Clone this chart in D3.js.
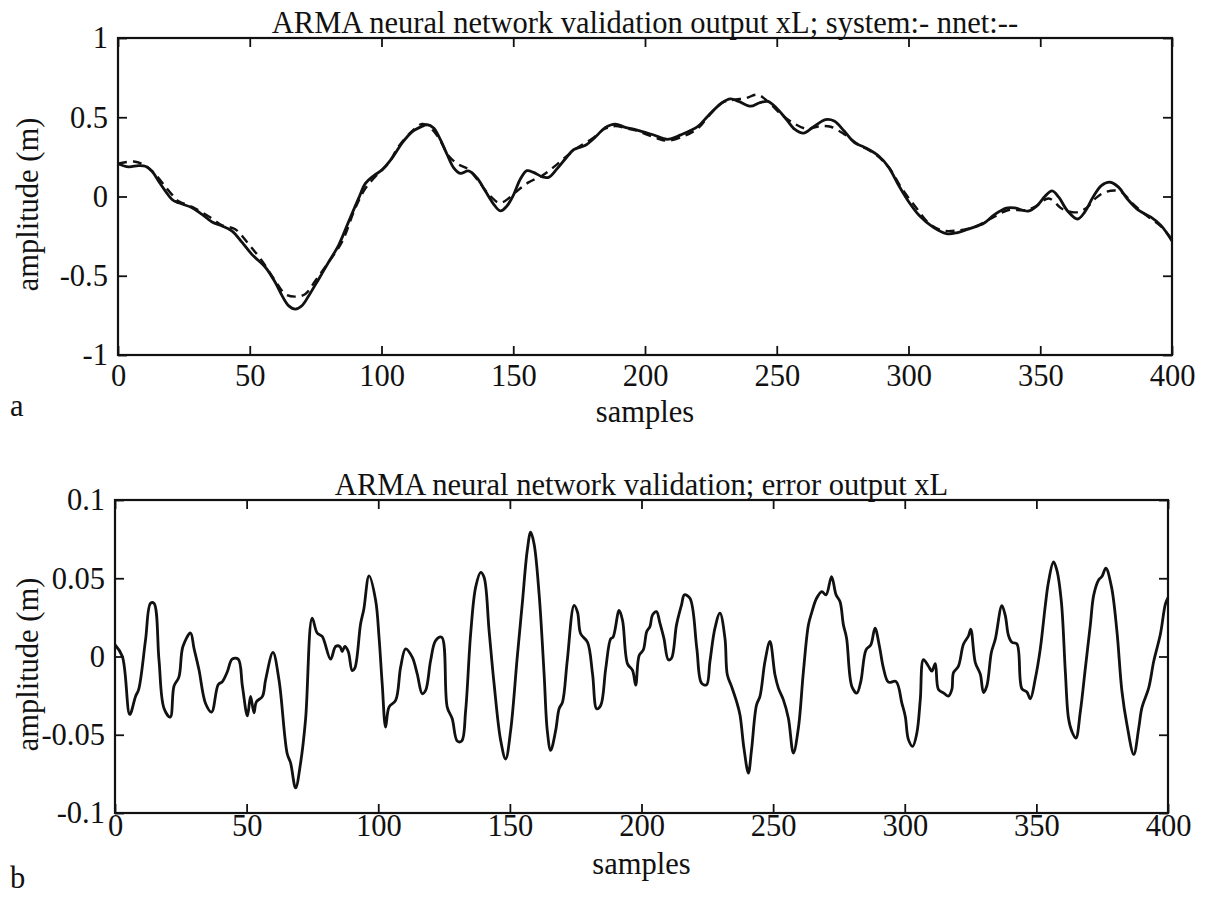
<!DOCTYPE html>
<html>
<head>
<meta charset="utf-8">
<script src="https://cdn.jsdelivr.net/npm/d3@7"></script>
<style>
  body { margin: 0; background: #fff; }
  svg text { font-family: "Liberation Serif", "DejaVu Serif", serif; fill: #111; }
</style>
</head>
<body>
<div id="chart"></div>
<script>
// panel a: system output (solid) and nnet output (dashed), [sample, amplitude]
var systemOut = [
  [0, 0.207], [4, 0.187], [7.8, 0.195], [10.4, 0.191], [12.9, 0.159], [15.4, 0.097],
  [18, 0.034], [20.5, -0.019], [23, -0.04], [28.1, -0.071], [31.9, -0.113], [35.7, -0.161],
  [39.5, -0.186], [43.3, -0.218], [47.1, -0.29], [50.8, -0.365], [56, -0.448], [59.7, -0.543],
  [62.3, -0.627], [64.8, -0.69], [67.3, -0.71], [69.8, -0.689], [72.4, -0.626], [76.2, -0.52],
  [80, -0.412], [83.7, -0.308], [87.5, -0.16], [91.3, -0.012], [93.9, 0.083], [97, 0.131],
  [100.2, 0.168], [104, 0.242], [107.8, 0.337], [111.6, 0.408], [115.4, 0.443], [117.3, 0.454],
  [119.8, 0.432], [122.3, 0.36], [124.9, 0.265], [127.4, 0.181], [129.9, 0.146], [133, 0.161],
  [136.2, 0.118], [139.4, 0.034], [142.6, -0.049], [145.1, -0.091], [147.6, -0.06], [150.2, 0.014],
  [152.7, 0.11], [155.2, 0.163], [157.7, 0.152], [160.9, 0.125], [163.4, 0.121], [166.6, 0.174],
  [169.8, 0.238], [172.9, 0.295], [177.4, 0.323], [181.2, 0.376], [185, 0.436], [188.7, 0.457],
  [192.5, 0.436], [196, 0.424], [203.3, 0.388], [208.4, 0.361], [213.6, 0.389], [220.1, 0.442],
  [224, 0.51], [229.1, 0.59], [232.4, 0.616], [235.6, 0.6], [240.1, 0.57], [243.3, 0.59],
  [246.6, 0.6], [249.8, 0.56], [253.7, 0.486], [256.9, 0.423], [260.1, 0.4], [264, 0.44],
  [268.5, 0.485], [271.8, 0.476], [275.6, 0.413], [279.5, 0.34], [283.4, 0.31], [288.6, 0.257],
  [292.5, 0.184], [296.3, 0.069], [300.2, -0.036], [304.1, -0.12], [309.3, -0.193], [314.4, -0.234],
  [318.3, -0.229], [323.5, -0.201], [328.6, -0.169], [332.5, -0.116], [337.1, -0.073], [340.3, -0.072],
  [345.4, -0.092], [348.7, -0.06], [351.9, 0.003], [354.5, 0.035], [357.1, -0.006], [360.3, -0.09],
  [364.2, -0.142], [366.8, -0.1], [370, -0.005], [373.2, 0.069], [376.5, 0.09], [379.7, 0.059],
  [383, -0.014], [387.4, -0.088], [392, -0.13], [395.8, -0.182], [400, -0.28]
];

var nnetOut = [
  [0, 0.207], [6, 0.221], [10.4, 0.195], [14.2, 0.139], [19.9, 0.023], [23, -0.03],
  [28.1, -0.065], [35.7, -0.139], [39.5, -0.182], [44.5, -0.207], [49.6, -0.301], [54.6, -0.405],
  [59.7, -0.532], [63.5, -0.616], [67.3, -0.632], [71.1, -0.615], [74.9, -0.531], [80, -0.412],
  [85, -0.287], [90, -0.075], [93.9, 0.051], [98.9, 0.147], [102.7, 0.21], [106.5, 0.316],
  [111.6, 0.412], [115.4, 0.458], [117.9, 0.443], [121.7, 0.371], [125.5, 0.255], [129.3, 0.202],
  [133, 0.171], [136.8, 0.097], [140.7, 0.014], [144.5, -0.039], [147, -0.027], [150.8, 0.026],
  [155.8, 0.089], [160.9, 0.131], [165.3, 0.185], [169.8, 0.248], [174.8, 0.312], [179.9, 0.365],
  [185, 0.429], [188.7, 0.444], [193.1, 0.429], [196, 0.419], [204.6, 0.367], [208.4, 0.352],
  [214.9, 0.382], [220.1, 0.43], [224, 0.505], [229.1, 0.59], [233.6, 0.61], [238.2, 0.62],
  [242.7, 0.642], [246.6, 0.6], [251.1, 0.527], [256.3, 0.464], [261.4, 0.427], [266.6, 0.444],
  [270.5, 0.44], [275.6, 0.393], [280.8, 0.33], [287.3, 0.268], [292.5, 0.184], [297.6, 0.047],
  [302.8, -0.068], [308, -0.173], [313.1, -0.215], [318.3, -0.215], [324.8, -0.193], [331.2, -0.14],
  [337.7, -0.087], [344.2, -0.086], [348, -0.065], [353.2, -0.013], [358.4, -0.079], [363.5, -0.1],
  [367.4, -0.074], [371.3, -0.007], [375.2, 0.031], [380.3, 0.032], [385.5, -0.052], [390.7, -0.125],
  [395.8, -0.188], [400, -0.27]
];

// panel b: error output, [sample, amplitude]
var errorOut = [
  [0, 0.0075], [2.8, 0], [5.6, -0.037], [7.8, -0.0255], [9, -0.021], [11.6, 0.0106],
  [13.5, 0.034], [14.8, 0.034], [16.7, -0.002], [18.6, -0.033], [21, -0.0387], [22.4, -0.019],
  [24.3, -0.013], [25.8, 0.0064], [28.7, 0.015], [30, 0.0053], [31.9, -0.0085], [34.4, -0.03],
  [36.7, -0.0355], [39.2, -0.018], [40.8, -0.016], [42.7, -0.0096], [44.5, -0.0017], [46.8, -0.0017],
  [48.4, -0.019], [50.3, -0.038], [51.5, -0.0255], [52.8, -0.036], [53.7, -0.029], [56, -0.0255],
  [57.2, -0.015], [60, 0.0026], [62.3, -0.015], [65.4, -0.062], [66.7, -0.068], [68.6, -0.084],
  [70.5, -0.068], [72.4, -0.04], [74.9, 0.0245], [76.8, 0.015], [78.7, 0.0128], [81.9, -0.0017],
  [83.8, 0.0064], [85.4, 0.0064], [86.3, 0.0032], [87.3, 0.0064], [88.6, 0.0032], [90.1, -0.009],
  [91.1, -0.0074], [93.3, 0.021], [94.5, 0.03], [96.5, 0.0515], [99, 0.036], [100.3, 0.0123],
  [101.5, -0.0174], [102.8, -0.0451], [104.1, -0.0323], [106.6, -0.0281], [108.5, -0.0068], [110.4, 0.0049],
  [112.9, -0.0004], [114.8, -0.0111], [116.7, -0.0238], [118, -0.0217], [119.9, -0.0026], [121.8, 0.0102],
  [124.1, 0.0123], [126.2, -0.0323], [128.1, -0.0398], [130, -0.054], [131.7, -0.054], [133.2, -0.0345],
  [135.1, 0.0145], [137, 0.0443], [138.9, 0.0538], [140.2, 0.0506], [142.1, 0.0166], [144, -0.0174],
  [146.5, -0.0536], [148.4, -0.0655], [150.3, -0.0472], [152.8, -0.0004], [154.7, 0.0336], [156.6, 0.0677],
  [157.9, 0.0794], [159.2, 0.0719], [161.1, 0.04], [163, -0.0111], [164.2, -0.0472], [165.5, -0.06],
  [167.4, -0.0472], [168.7, -0.0334], [170, -0.0291], [171.8, -0.0026], [174.4, 0.0326], [175.7, 0.0283],
  [176.9, 0.0145], [179.5, 0.0091], [181.4, -0.0111], [183, -0.0334], [184.5, -0.0313], [186.4, -0.0079],
  [188.3, 0.0113], [189.2, 0.0123], [191.5, 0.0294], [192.8, 0.023], [194.7, -0.0047], [196.6, -0.0089],
  [197.8, -0.0183], [199.1, 0.0006], [200.7, 0.0043], [202, 0.016], [203.2, 0.0191], [204.2, 0.0266],
  [205.7, 0.0287], [207, 0.0213], [208.5, 0.0117], [210.2, -0.0021], [211.4, -0.0011], [213.3, 0.0202],
  [215.2, 0.033], [216.3, 0.0394], [218.4, 0.0372], [221, 0.0053], [222.8, -0.017], [224.7, -0.0181],
  [226, -0.0032], [227.9, 0.0181], [229.8, 0.0277], [231.7, 0.0117], [232.6, -0.0117], [234.2, -0.0191],
  [236.1, -0.0287], [237.4, -0.0372], [238.9, -0.0585], [240.6, -0.0745], [241.8, -0.0596], [243.7, -0.0309],
  [245, -0.0255], [246.9, -0.0032], [248.8, 0.0096], [250.7, -0.0117], [252, -0.0202], [253.9, -0.0277],
  [255.8, -0.0394], [257.7, -0.0617], [259.6, -0.0457], [261.5, -0.0096], [263.4, 0.0202], [264.6, 0.0277],
  [266.5, 0.0372], [268.5, 0.0415], [270.1, 0.0394], [272.2, 0.0511], [273.9, 0.0394], [275.4, 0.0351],
  [276.7, 0.0202], [277.9, 0.0117], [279.9, -0.0191], [281.8, -0.0234], [283.3, -0.016], [285.3, 0.0043],
  [287.1, 0.0074], [288.7, 0.0181], [290.4, 0.0064], [291.9, -0.0074], [293.8, -0.0164], [296.7, -0.016],
  [298.9, -0.0298], [300.2, -0.0383], [301.4, -0.0531], [303, -0.0574], [304.6, -0.0489], [305.9, -0.0276],
  [307.1, -0.002], [309, -0.0062], [310.3, -0.0094], [311.6, -0.0045], [312.8, -0.0211], [314.7, -0.0232],
  [316.6, -0.0253], [317.9, -0.021], [318.5, -0.0104], [320.4, -0.0061], [322.3, 0.0078], [324.2, 0.0131],
  [325.1, 0.0174], [326.8, -0.0039], [328.7, -0.0113], [329.9, -0.023], [331.2, -0.0187], [332.9, 0.0026],
  [334.4, 0.0111], [336.9, 0.0325], [338.2, 0.0261], [339.4, 0.0134], [340.7, 0.0091], [342.6, 0.0081],
  [344.5, -0.0206], [346.4, -0.0227], [347.7, -0.027], [349.6, -0.0141], [351.5, 0.005], [353.4, 0.0327],
  [354.6, 0.0476], [356.5, 0.0604], [357.8, 0.0551], [359.5, 0.0349], [361, -0.0097], [362.2, -0.0395],
  [363.5, -0.048], [365, -0.0522], [366.7, -0.0352], [368.6, -0.0075], [370.5, 0.0202], [371.8, 0.0394],
  [373.7, 0.049], [374.9, 0.0511], [376.4, 0.0564], [378.5, 0.0448], [380.6, 0.0161], [382.5, -0.0222],
  [384.4, -0.0434], [387, -0.0626], [388.9, -0.0455], [390.1, -0.0327], [392.7, -0.0199], [394.6, -0.0029],
  [397.1, 0.0142], [399, 0.0334], [400, 0.0376]
];

var xTicks = [0, 50, 100, 150, 200, 250, 300, 350, 400];
var yTicksA = [-1, -0.5, 0, 0.5, 1];
var yTicksB = [-0.1, -0.05, 0, 0.05, 0.1];

var titleA = "ARMA neural network validation output xL; system:- nnet:--";
var titleB = "ARMA neural network validation; error output xL";

var width = 1208, height = 904;
var fontSize = 30.5;

var svg = d3.select("#chart").append("svg")
  .attr("width", width)
  .attr("height", height);

function fmt(d) {
  return String(d).replace("\u2212", "-");
}

function drawPanel(box, yDomain, yTicks, title, letter) {
  var x = d3.scaleLinear().domain([0, 400]).range([box.left, box.right]);
  var y = d3.scaleLinear().domain(yDomain).range([box.bottom, box.top]);

  var g = svg.append("g");

  // ticks point inward on all four sides, like the old matlab plots
  g.append("g")
    .attr("transform", "translate(0," + box.bottom + ")")
    .call(d3.axisBottom(x).tickValues(xTicks).tickSize(-9).tickPadding(box.xPad).tickFormat(fmt))
    .selectAll(".tick text").attr("dy", "0.55em");
  g.append("g")
    .attr("transform", "translate(0," + box.top + ")")
    .call(d3.axisTop(x).tickValues(xTicks).tickSize(-9).tickFormat(""));
  g.append("g")
    .attr("transform", "translate(" + box.left + ",0)")
    .call(d3.axisLeft(y).tickValues(yTicks).tickSize(-9).tickPadding(10).tickFormat(fmt));
  g.append("g")
    .attr("transform", "translate(" + box.right + ",0)")
    .call(d3.axisRight(y).tickValues(yTicks).tickSize(-9).tickFormat(""));

  g.selectAll(".domain").remove();
  g.selectAll(".tick line").attr("stroke", "#111").attr("stroke-width", 1.8);
  g.selectAll(".tick text").style("font-size", fontSize + "px").attr("fill", "#111");

  g.append("rect")
    .attr("x", box.left).attr("y", box.top)
    .attr("width", box.right - box.left).attr("height", box.bottom - box.top)
    .attr("fill", "none").attr("stroke", "#111").attr("stroke-width", 2.2);

  g.append("text")
    .attr("x", (box.left + box.right) / 2)
    .attr("y", box.top - 5)
    .attr("text-anchor", "middle")
    .style("font-size", fontSize + "px")
    .text(title);

  g.append("text")
    .attr("x", (box.left + box.right) / 2)
    .attr("y", box.bottom + box.labelGap)
    .attr("text-anchor", "middle")
    .style("font-size", fontSize + "px")
    .text("samples");

  g.append("text")
    .attr("transform", "translate(38," + ((box.top + box.bottom) / 2 + 8) + ") rotate(-90)")
    .attr("text-anchor", "middle")
    .style("font-size", fontSize + "px")
    .text("amplitude (m)");

  g.append("text")
    .attr("x", 10)
    .attr("y", box.letterY)
    .style("font-size", fontSize + "px")
    .text(letter);

  return { g: g, x: x, y: y };
}

var pa = drawPanel({ left: 118, right: 1172, top: 38, bottom: 355, xPad: 14, labelGap: 67, letterY: 416 },
  [-1, 1], yTicksA, titleA, "a");
var pb = drawPanel({ left: 115, right: 1168, top: 500, bottom: 813, xPad: 6, labelGap: 61, letterY: 888 },
  [-0.1, 0.1], yTicksB, titleB, "b");

function lineFor(p, curve) {
  return d3.line()
    .x(function(d) { return p.x(d[0]); })
    .y(function(d) { return p.y(d[1]); })
    .curve(curve);
}

pa.g.append("path")
  .datum(nnetOut)
  .attr("d", lineFor(pa, d3.curveCatmullRom))
  .attr("fill", "none")
  .attr("stroke", "#111")
  .attr("stroke-width", 2.4)
  .attr("stroke-dasharray", "9,6");

pa.g.append("path")
  .datum(systemOut)
  .attr("d", lineFor(pa, d3.curveCatmullRom))
  .attr("fill", "none")
  .attr("stroke", "#111")
  .attr("stroke-width", 2.8);

pb.g.append("path")
  .datum(errorOut)
  .attr("d", lineFor(pb, d3.curveCatmullRom.alpha(0.5)))
  .attr("fill", "none")
  .attr("stroke", "#111")
  .attr("stroke-width", 2.8)
  .attr("stroke-linejoin", "round");
</script>
</body>
</html>
